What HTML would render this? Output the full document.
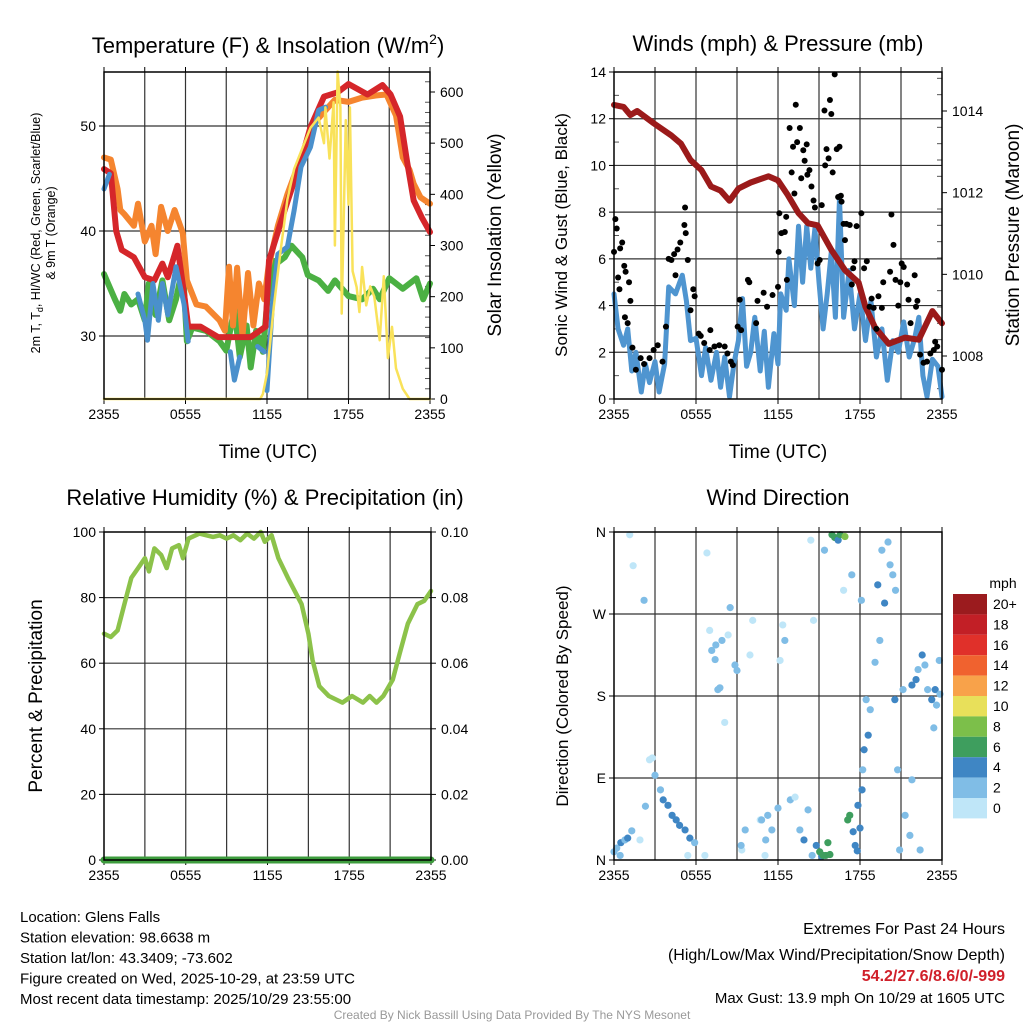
<!DOCTYPE html>
<html><head><meta charset="utf-8"><style>
body{margin:0;background:#fff;}
svg text{font-family:"Liberation Sans",sans-serif;fill:#000;}
</style></head><body>
<svg id="c" width="1024" height="1024" viewBox="0 0 1024 1024" xmlns="http://www.w3.org/2000/svg"></svg>
<script>
// ---------- DATA (hours after 2355 UTC) ----------
const xTickLabels=["2355","0555","1155","1755","2355"];
const tempTimes=[0,0.5,0.9,1.3,2.2,3,3.7,4.3,4.7,5.4,5.9,6.2,7.1,8.4,9.6,10.8,11.9,12.15,13.3,14.5,15.2,16.2,17.2,18,19.4,20.5,21.1,21.8,22.3,22.8,23.4,24];
const tempRed=[45.9,45.5,40,38.2,37.5,35.6,35.3,36.9,35.6,38.6,34,30.9,30.9,29.9,29.9,29.9,30.9,37.2,42,46.7,49.9,52.8,53.2,54,53,53.9,53,50.9,46.7,42.9,41.3,39.9];
const orTimes=[0,0.5,1,1.2,1.5,2.2,2.5,3,3.5,3.8,4.2,4.7,5.2,5.8,6.1,6.8,7.5,8.5,8.9,9.2,9.5,9.8,10.2,10.6,11,11.4,11.8,12.1,12.8,13.5,14.5,15.5,16.3,17,18,19,20,20.8,21.5,22,22.5,22.8,23.3,24];
const tempOrange=[47,46.8,44,42,41.6,40.5,42.6,39,40.5,37.8,42.3,40,42,39.8,35.3,33,32.8,31.5,30.5,36.6,31,36.5,30,36,31,35,33.5,36.5,40.5,43.5,47,50.3,51.5,52.5,52.3,52.7,52.9,53,51,47,45.8,44.5,43.2,42.6];
const blueTimes=[0,0.4,0.6,2.5,3,3.2,3.6,4,4.3,4.7,5.3,5.9,6.2,6.4,9.2,9.3,9.6,10,10.3,11.3,11.8,11.9,12,12.4,12.8,13.5,14,14.5,15.2,15.8,16.3];
const tempBlue=[44,45.4,null,34,31.5,29.6,35,31.5,35,32,36.6,33,29.5,null,null,28.5,25.8,28,null,29,28.5,null,24.8,33,37.8,38.5,42,46.1,48,51.5,51.8];
const dewTimes=[0,0.8,1.2,1.5,2,2.5,3,3.3,3.8,4.3,4.8,5.3,5.8,6.1,6.5,7.5,8.5,9,9.6,10,10.5,10.8,11.2,11.7,12,12.4,12.8,13.3,13.8,14.6,15,15.8,16.5,17,18,19,19.8,20.3,21,22,23,23.5,24];
const tempDew=[35.9,33.5,32.4,34,33,33.5,31.5,35,32,35.3,31.5,33.5,36.6,29.5,30.8,30.5,29.5,28.6,32.6,28,31,27,30.5,28.5,33,37.2,37,37.5,38.6,37.5,35.8,35.3,34.3,35.3,33.8,33.5,34.5,33.5,35.5,34.5,35.5,33.5,35];
const solarTimes=[0,11.5,11.7,12,12.5,13,13.5,14,14.6,15.2,15.8,16.2,16.3,16.6,16.9,17,17.2,17.4,17.5,17.8,18,18.1,18.3,18.6,18.8,19,19.3,19.6,19.9,20.3,20.6,20.9,21.2,21.5,22,22.5,24];
const solarVals=[0,0,10,50,180,290,390,450,490,530,550,500,570,470,580,300,640,570,167,545,380,570,250,219,170,258,183,220,200,115,240,80,141,60,20,0,0];
const presTimes=[0,0.7,1.2,1.7,2.9,4.2,4.9,5.6,6.4,7.1,7.8,8.45,9.1,10,11.3,12,12.7,13.5,14.2,14.9,15.9,16.9,17.9,18.4,19.1,20.1,21.3,22.3,23.3,24];
const presVals=[1014.15,1014.1,1013.9,1014.0,1013.7,1013.4,1013.2,1012.8,1012.55,1012.15,1012.05,1011.8,1012.1,1012.25,1012.4,1012.3,1011.95,1011.5,1011.25,1011.2,1010.6,1010.1,1009.8,1009.2,1008.7,1008.3,1008.45,1008.4,1009.1,1008.8];
const windTimes=[0,0.3,0.7,1,1.3,1.6,2,2.3,2.6,3,3.3,3.7,4,4.5,5,5.3,5.6,6,6.4,6.7,7.1,7.5,7.8,8.1,8.45,8.8,9.1,9.4,9.7,10,10.3,10.7,11,11.3,11.7,12,12.2,12.6,12.8,13.2,13.5,13.8,14.1,14.4,14.7,15,15.3,15.6,15.9,16.2,16.5,16.8,17.2,17.6,18,18.4,18.8,19.2,19.6,20,20.4,20.8,21.2,21.6,22,22.3,22.6,22.9,23.3,23.7,24];
const windVals=[4.5,3,2.3,3,1.2,2,0.3,1.5,0.7,1.6,0.3,1.5,4.8,4.5,5.3,4.2,2.5,2.6,1.0,2.2,0.8,2.0,0.5,1.8,0.1,1.6,2.5,4.3,1.4,2.0,3.5,1.2,2.9,0.5,2.8,1.5,4.5,3.8,6.0,4.0,7.4,5,7.4,5.6,7.3,5.0,3,4.5,6.3,3.5,8.6,3.5,5.5,3.0,4.5,2.5,4.2,1.8,3.0,0.8,2.5,2.0,3.3,1.8,2.6,3.5,1.0,0.1,1.7,1.4,0.1];
const gustTimes=[0,0.1,0.2,0.45,0.6,0.3,0.75,0.4,0.85,1.1,1.2,0.8,1.0,1.35,1.6,1.95,2.2,2.6,2.9,3.2,3.55,3.8,4.0,4.2,4.4,4.65,4.85,5.15,5.2,5.25,5.4,4.5,5.8,5.9,5.6,6.2,6.35,6.6,7.05,7.0,7.35,7.7,8.1,8.3,8.55,8.7,9.05,9.2,9.3,9.8,9.9,10.4,10.5,10.95,11.2,11.6,12.0,12.05,12.1,12.25,12.5,12.6,12.65,12.85,13.0,13.1,13.2,13.3,13.4,13.6,13.7,13.85,13.95,14.1,14.15,14.3,14.45,14.6,14.7,14.9,15.05,15.2,15.4,15.45,15.55,15.7,15.8,15.9,16.0,16.15,16.3,16.4,16.5,16.6,16.65,16.8,16.9,17.0,17.25,17.4,17.5,17.6,17.75,18.1,18.3,18.5,18.7,18.85,19.0,19.2,19.35,19.6,19.7,20.2,20.3,20.45,20.6,20.8,20.95,21.05,21.2,21.45,21.55,21.7,22.0,22.1,22.2,22.4,22.65,22.9,23.15,23.4,23.5,23.65,24];
const gustVals=[6.3,7.7,7.3,6.45,6.7,5.2,5.7,4.7,5.45,5.0,4.2,3.5,3.25,2.2,1.25,1.75,1.5,1.75,2.1,2.3,1.6,3.1,6.0,5.95,6.2,6.4,6.7,7.45,8.2,7.1,5.95,5.3,4.7,4.4,3.8,2.8,2.7,2.4,2.95,2.1,2.25,2.3,2.25,1.95,1.6,1.45,3.1,4.25,2.95,5.1,5.0,3.25,4.2,4.55,3.95,4.45,4.8,6.3,7.95,7.1,7.15,7.8,5.1,11.6,9.7,10.8,8.8,12.6,11.0,11.6,9.45,10.65,10.2,10.9,9.6,9.8,9.1,8.5,8.2,5.8,5.95,8.3,12.35,10.0,10.7,10.3,12.8,12.2,9.7,13.9,10.7,8.65,10.8,8.7,8.45,7.5,6.8,7.5,7.45,4.9,5.6,5.9,7.4,7.95,5.6,5.9,3.95,4.3,3.9,3.0,4.4,3.9,5.0,5.45,7.9,6.6,5.1,4.0,5.0,5.8,5.65,4.9,4.25,3.25,5.3,3.95,4.2,1.9,1.55,1.6,1.95,2.1,2.45,2.25,1.25];
const rhTimes=[0,0.5,1,1.5,2,2.5,3,3.3,3.7,4.2,4.6,5,5.5,5.8,6.2,7,8,8.5,9,9.5,10,10.5,11,11.5,11.8,12.3,12.8,13.5,14.5,15,15.3,15.8,16.5,17.5,18.2,19,19.5,20,20.5,21.2,21.7,22.3,23,23.5,24];
const rhVals=[69,68,70,78,86,89,92,88,95,93,89,95,96,92,98,99.5,98.5,99,98,99,97.5,99.5,98,100,97,99,92,86,78,69,61,53,50,48,50,48,50,48,50,55,63,72,78,79,82];
const precipTimes=[0,24];
const precipVals=[0,0];
const dirTimes=[0.2,0.5,0.8,1.0,1.3,0,0.45,1.15,1.4,2.3,2.6,2.8,1.9,3.0,3.4,3.6,3.95,4.25,4.55,4.8,5.2,5.55,5.9,5.4,6.65,6.8,7.0,7.15,7.4,7.6,7.45,7.75,8.1,7.9,8.35,8.5,9.0,8.85,9.6,9.35,9.3,9.95,10.15,10.7,11.05,11.25,11.55,11.1,10.8,12.0,12.35,12.5,12.15,12.9,13.25,13.6,13.9,14.2,14.5,14.8,15.2,15.5,15.05,15.3,15.8,15.65,15.95,16.15,16.4,16.55,16.9,17.1,17.25,17.5,17.65,17.8,18.0,17.85,18.15,18.2,18.3,18.6,18.75,18.45,19.1,19.45,19.8,19.3,19.6,20.05,20.2,20.4,20.6,20.9,21.3,21.65,21.8,20.75,20.55,21.15,21.8,22.1,22.25,22.55,22.75,22.95,23.25,23.5,23.6,23.85,23.8,23.4,22.4,2.2,14.6,14.4,15.4,16.8,17.4,18.1];
const dirVals=[13,19,22,24,32,9,5,357,323,59,110,112,22,93,77,66,60,49,44,38,33,24,19,5,5,337,252,230,220,187,236,189,151,241,247,277,208,214,33,11,16,225,263,44,5,49,33,22,44,57,258,241,219,66,69,33,22,55,5,16,4,5,9,5,6,19,357,354,351,357,355,44,49,31,16,10,35,60,77,99,121,137,165,176,217,241,282,302,340,349,324,313,296,11,49,27,88,99,176,187,192,198,209,225,214,187,176,187,170,182,219,145,11,285,263,351,340,296,313,285,274,291,307,329,11,27,5,5,138,357,357,358,80,105,140];
const dirSpeeds=[3,4,3,4,3,3,2,1,1,2,1,1,1,3,3,4,4,4,4,4,4,4,2,1,1,1,1,2,2,3,3,2,1,2,1,2,2,2,2,1,2,1,1,1,1,2,2,3,2,3,1,2,1,2,1,2,4,3,3,4,5,6,6,6,6,7,6,6,5,6,8,7,7,5,4,4,4,4,5,3,4,4,3,2,3,2,4,4,2,2,2,2,3,2,2,2,3,3,4,3,4,4,3,4,3,3,4,4,3,3,2,2,2,2,1,1,2,1,2,2,1,1,2,1,1,2,1,2,3,6,6,8,7,8,5];
const cbLabels=["20+","18","16","14","12","10","8","6","4","2","0"];
const cbColors=["#9b1b1e","#c21f26","#e0302a","#f0622f","#f8a24a","#e8e05a","#7cbf4a","#3e9e5e","#3f86c4","#80bde6","#bfe6f8"];

// ---------- DRAWING ----------
const svg=document.getElementById('c');
const NS="http://www.w3.org/2000/svg";
function mk(tag,attrs,parent){const e=document.createElementNS(NS,tag);for(const k in attrs)e.setAttribute(k,attrs[k]);(parent||svg).appendChild(e);return e;}
function txt(x,y,s,size,anchor,extra){const t=mk('text',Object.assign({x:x,y:y,'font-size':size,'text-anchor':anchor||'middle'},extra||{}));t.textContent=s;return t;}
function scale(d0,d1,r0,r1){return v=>r0+(v-d0)/(d1-d0)*(r1-r0);}
function pathFrom(xs,ys,fx,fy){let d="",pen=false;for(let i=0;i<xs.length;i++){if(ys[i]===null){pen=false;continue;}d+=(pen?"L":"M")+fx(xs[i]).toFixed(1)+","+fy(ys[i]).toFixed(1);pen=true;}return d;}
function line(xs,ys,fx,fy,color,w,name){const p=mk('path',{d:pathFrom(xs,ys,fx,fy),fill:'none',stroke:color,'stroke-width':w,'stroke-linejoin':'round','stroke-linecap':'round'});


return p;}
function frame(L,T,R,B,name){
 const g=mk('g',{});
 
 
 const fx=scale(0,24,L,R);
 for(let h=3;h<24;h+=3)mk('line',{x1:fx(h),x2:fx(h),y1:T,y2:B,stroke:'#333','stroke-width':1.2},g);
 xTickLabels.forEach((s,i)=>{const x=fx(i*6);mk('line',{x1:x,x2:x,y1:B,y2:B+5,stroke:'#000'},g);const t=txt(x,B+20,s,14);
 
 });
 for(let h=0;h<=24;h+=3)mk('line',{x1:fx(h),x2:fx(h),y1:T-5,y2:T,stroke:'#000'},g);
 return {g,fx};
}
function box(L,T,R,B){mk('rect',{x:L,y:T,width:R-L,height:B-T,fill:'none',stroke:'#000','stroke-width':1.5});}
function hgrid(vals,fy,L,R,g){vals.forEach(v=>mk('line',{x1:L,x2:R,y1:fy(v),y2:fy(v),stroke:'#333','stroke-width':1.2},g));}
function yTicks(vals,labels,fy,x,side,size){vals.forEach((v,i)=>{const y=fy(v);mk('line',{x1:x,x2:x+(side<0?-5:5),y1:y,y2:y,stroke:'#000'});const t=txt(x+(side<0?-8:10),y+5,labels[i],size||14,side<0?'end':'start');
 
 });}
function minor(vals,fy,x,dir){vals.forEach(v=>mk('line',{x1:x,x2:x+dir*5,y1:fy(v),y2:fy(v),stroke:'#555'}));}
function rotText(x,y,s,size,name){const t=txt(x,y,s,size,'middle',{transform:`rotate(-90 ${x} ${y})`});
 
 return t;}

// Panel 1
(function(){
 const L=104,T=72,R=430,B=399;const {g,fx}=frame(L,T,R,B,'temperature-panel');
 const fy=scale(30,40,336,231);const fs=scale(0,600,399,92);
 hgrid([30,40,50],fy,L,R,g);
 yTicks([30,40,50],["30","40","50"],fy,L,-1);
 const sv=[0,100,200,300,400,500,600];yTicks(sv,sv.map(String),fs,R,1);
 const mv=[];for(let v=20;v<=620;v+=20)if(v%100)mv.push(v);minor(mv,fs,R,-1);
 line(dewTimes,tempDew,fx,fy,'#4bb043',6,'dewpoint-line');
 line(orTimes,tempOrange,fx,fy,'#f5852f',6,'temp-9m-line');
 line(tempTimes,tempRed,fx,fy,'#d5262a',6,'temp-2m-line');
 line(blueTimes,tempBlue,fx,fy,'#4a90cc',5,'heat-index-windchill-line');
 line(solarTimes,solarVals,fx,fs,'#f9e25a',2.5,'solar-insolation-line');
 box(L,T,R,B);
 const t=txt(268,53,"",22);t.innerHTML='Temperature (F) &amp; Insolation (W/m<tspan font-size="14" dy="-9">2</tspan><tspan dy="9">)</tspan>';
 
 const xl=txt(268,458,"Time (UTC)",19);
 const yl=txt(0,0,"",12.5,'middle',{transform:'translate(40 233) rotate(-90)'});yl.innerHTML='<tspan x="0" dy="0">2m T, T<tspan font-size="9" dy="3">d</tspan><tspan dy="-3">, HI/WC (Red, Green, Scarlet/Blue)</tspan></tspan><tspan x="0" dy="15">&amp; 9m T (Orange)</tspan>';
 
 rotText(501,235,"Solar Insolation (Yellow)",19,'solar-y-title');
})();

// Panel 2
(function(){
 const L=614,T=72,R=942,B=399;const {g,fx}=frame(L,T,R,B,'wind-panel');
 const fy=scale(0,14,399,72);const fp=scale(1008,1014,356,111);
 const wv=[0,2,4,6,8,10,12,14];hgrid(wv.slice(1,7),fy,L,R,g);
 yTicks(wv,wv.map(String),fy,L,-1);
 const pv=[1008,1010,1012,1014];yTicks(pv,pv.map(String),fp,R,1);
 const mv=[];for(let v=1007.2;v<=1014.9;v+=0.4){if(Math.abs(v-Math.round(v/2)*2)>0.1)mv.push(v);}minor(mv,fp,R,-1);
 minor([1,3,5,7,9,11,13],fy,L,1);
 line(windTimes,windVals,fx,fy,'#4f95d0',5,'sonic-wind-line');
 line(presTimes,presVals,fx,fp,'#9b1a1a',6,'pressure-line');
 gustTimes.forEach((h,i)=>{const c=mk('circle',{cx:fx(h),cy:fy(gustVals[i]),r:3,fill:'#000'});
 
 });
 box(L,T,R,B);
 const t=txt(778,51,"Winds (mph) & Pressure (mb)",22);
 const xl=txt(778,458,"Time (UTC)",19);
 rotText(567,235,"Sonic Wind & Gust (Blue, Black)",17,'wind-y-title');
 rotText(1019,235,"Station Pressure (Maroon)",19,'pressure-y-title');
})();

// Panel 3
(function(){
 const L=104,T=532,R=431,B=860;const {g,fx}=frame(L,T,R,B,'humidity-panel');
 const fy=scale(0,100,860,532);const fr=scale(0,0.1,860,532);
 const rv=[0,20,40,60,80,100];hgrid(rv.slice(1,5),fy,L,R,g);
 yTicks(rv,rv.map(String),fy,L,-1);
 const pv=[0,0.02,0.04,0.06,0.08,0.1];yTicks(pv,pv.map(v=>v.toFixed(2)),fr,R,1);
 line(rhTimes,rhVals,fx,fy,'#8cc24a',4.5,'humidity-line');
 line(precipTimes,precipVals,fx,fr,'#3d9c3d',7,'precipitation-line');
 box(L,T,R,B);
 const t=txt(265,505,"Relative Humidity (%) & Precipitation (in)",22);
 rotText(42,696,"Percent & Precipitation",19,'humidity-y-title');
})();

// Panel 4
(function(){
 const L=614,T=532,R=942,B=860;const {g,fx}=frame(L,T,R,B,'direction-panel');
 const fy=scale(0,360,860,532);
 const dv=[0,90,180,270,360];hgrid([90,180,270],fy,L,R,g);
 yTicks(dv,["N","E","S","W","N"],fy,L,-1);
 dirTimes.forEach((h,i)=>{const k=Math.min(10,Math.floor(dirSpeeds[i]/2));
 const c=mk('circle',{cx:fx(h),cy:fy(dirVals[i]),r:3.6,fill:cbColors[10-k]});
 
 });
 box(L,T,R,B);
 const t=txt(778,505,"Wind Direction",22);
 rotText(568,696,"Direction (Colored By Speed)",17,'direction-y-title');
 const m=txt(1003,588,"mph",14);
 cbLabels.forEach((s,i)=>{const y=594+i*20.4;
 const r=mk('rect',{x:953,y:y,width:34,height:20.4,fill:cbColors[i]});
 
 
 const l=txt(993,y+15,s,14,'start');
 
 });
})();

// Footer text
["Location: Glens Falls","Station elevation: 98.6638 m","Station lat/lon: 43.3409; -73.602","Figure created on Wed, 2025-10-29, at 23:59 UTC","Most recent data timestamp: 2025/10/29 23:55:00"].forEach((s,i)=>{const t=txt(20,922+i*20.5,s,15,'start');
 
 });
const e1=txt(1005,934,"Extremes For Past 24 Hours",16,'end');
const e2=txt(1005,960,"(High/Low/Max Wind/Precipitation/Snow Depth)",16,'end');
const e3=txt(1005,981,"54.2/27.6/8.6/0/-999",16,'end',{'font-weight':'bold',style:'fill:#d0202a'});
const e4=txt(1005,1003,"Max Gust: 13.9 mph On 10/29 at 1605 UTC",15,'end');
const cr=txt(512,1019,"Created By Nick Bassill Using Data Provided By The NYS Mesonet",12,'middle',{style:'fill:#999'});
</script>
</body></html>
